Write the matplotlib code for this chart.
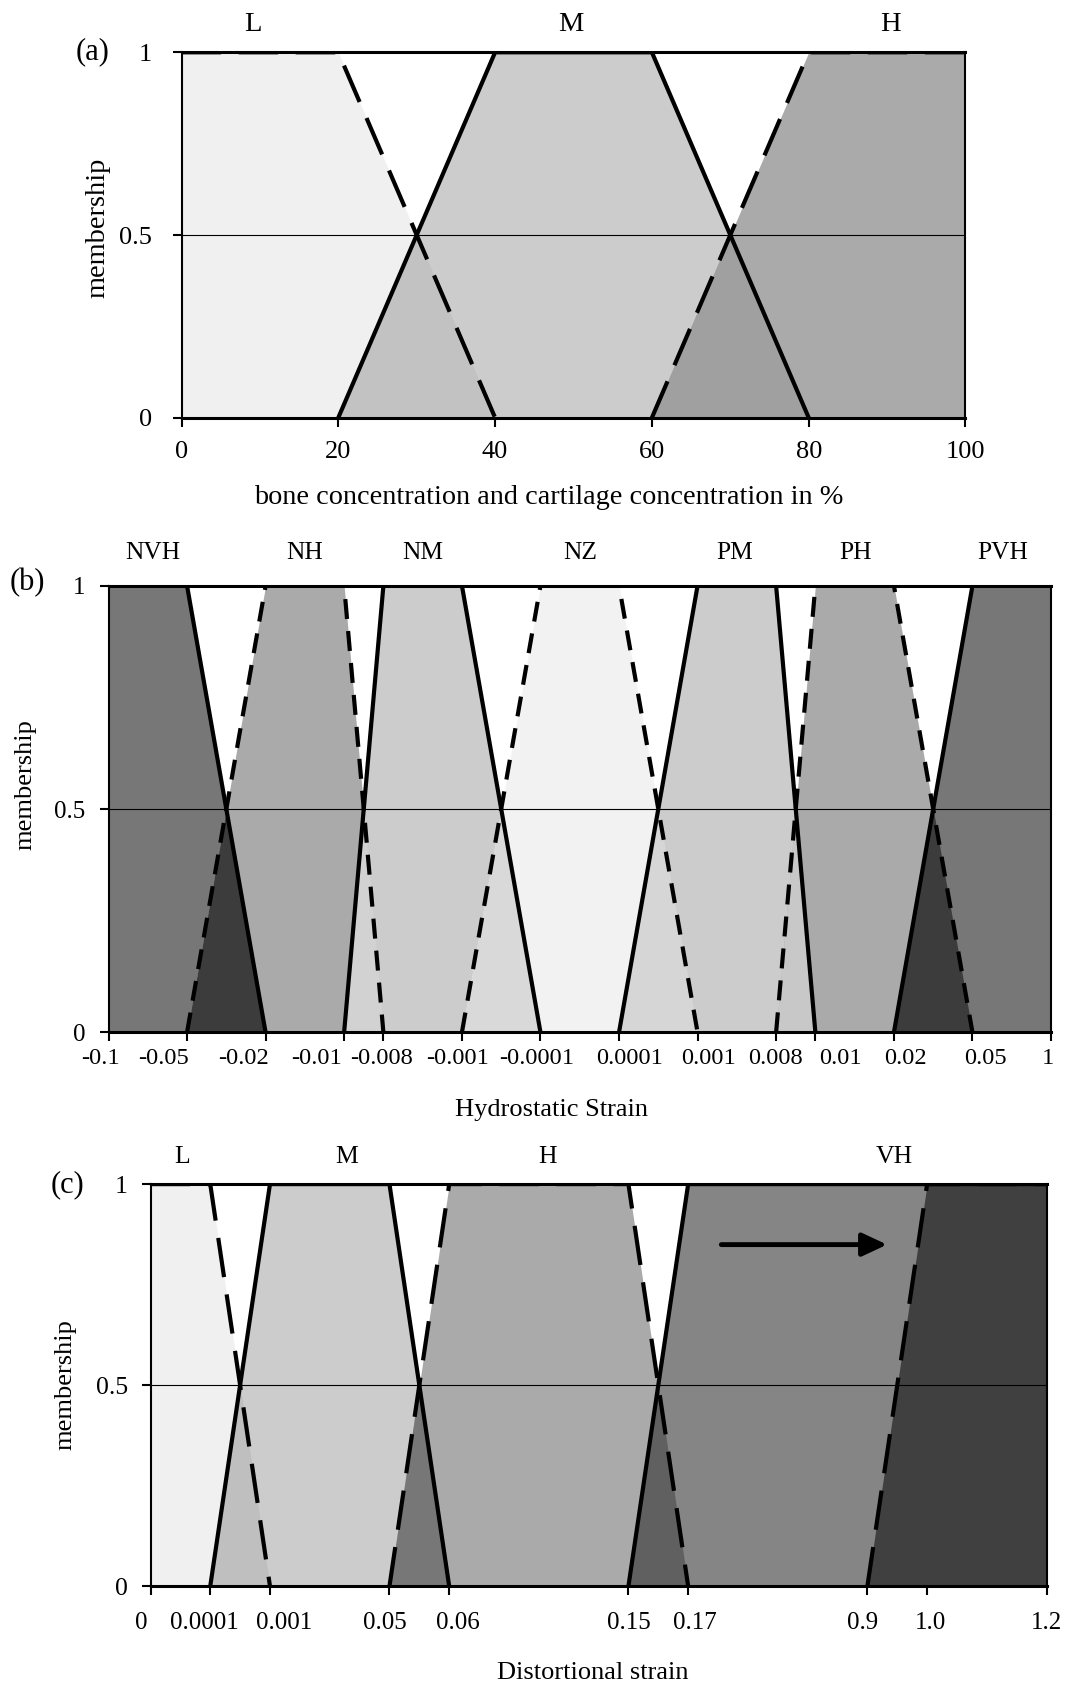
import numpy as np
import matplotlib
matplotlib.use('Agg')
import matplotlib.pyplot as plt
from matplotlib.transforms import blended_transform_factory, ScaledTranslation

plt.rcParams['font.family'] = ['Liberation Serif', 'DejaVu Serif']

# (a) bone / cartilage concentration
a_ticks = [0, 20, 40, 60, 80, 100]
a_tick_labels = ['0', '20', '40', '60', '80', '100']
a_names = ['L', 'M', 'H']
a_sets = [[0, 0, 20, 40], [20, 40, 60, 80], [60, 80, 100, 100]]

# (b) hydrostatic strain
b_ticks = [-0.1, -0.05, -0.02, -0.01, -0.008, -0.001, -0.0001,
           0.0001, 0.001, 0.008, 0.01, 0.02, 0.05, 1]
b_tick_labels = ['-0.1', '-0.05', '-0.02', '-0.01', '-0.008', '-0.001', '-0.0001',
                 '0.0001', '0.001', '0.008', '0.01', '0.02', '0.05', '1']
b_names = ['NVH', 'NH', 'NM', 'NZ', 'PM', 'PH', 'PVH']
b_sets = [[-0.1, -0.1, -0.05, -0.02],
          [-0.05, -0.02, -0.01, -0.008],
          [-0.01, -0.008, -0.001, -0.0001],
          [-0.001, -0.0001, 0.0001, 0.001],
          [0.0001, 0.001, 0.008, 0.01],
          [0.008, 0.01, 0.02, 0.05],
          [0.02, 0.05, 1, 1]]

# (c) distortional strain
c_ticks = [0, 0.0001, 0.001, 0.05, 0.06, 0.15, 0.17, 0.9, 1.0, 1.2]
c_tick_labels = ['0', '0.0001', '0.001', '0.05', '0.06', '0.15', '0.17', '0.9', '1.0', '1.2']
c_names = ['L', 'M', 'H', 'VH']
c_sets = [[0, 0, 0.0001, 0.001],
          [0.0001, 0.001, 0.05, 0.06],
          [0.05, 0.06, 0.15, 0.17],
          [0.15, 0.17, 1.2, 1.2],
          [0.9, 1.0, 1.2, 1.2]]

W, H = 1071, 1688
fig = plt.figure(figsize=(W / 100, H / 100), dpi=100)


def px(x, y):
    return x / W, 1 - y / H


def add_axes(left, top, right, bottom):
    return fig.add_axes([left / W, 1 - bottom / H, (right - left) / W, (bottom - top) / H])


def trap(s):
    xp, fp = list(s), [0, 1, 1, 0]
    if s[0] == s[1]:
        xp, fp = xp[1:], fp[1:]
    if s[2] == s[3]:
        xp, fp = xp[:-1], fp[:-1]
    return xp, fp


def panel(ax, ticks, tick_labels, units, sets, styles, fills, overlaps, dash,
          tsize, ysize, label_drop, label_shift, ypad):
    # spreadsheet-style axis: the ticks are spaced by category, not by value
    if units is not None:
        ax.set_xscale('function', functions=(lambda x: np.interp(x, ticks, units),
                                             lambda p: np.interp(p, units, ticks)))
    ax.set_xlim(ticks[0], ticks[-1])
    ax.set_ylim(0, 1)
    xs = np.unique(np.concatenate([np.linspace(ticks[i], ticks[i + 1], 400)
                                   for i in range(len(ticks) - 1)]))
    mus = [np.interp(xs, *trap(s)) for s in sets]
    for mu, c in zip(mus, fills):
        ax.fill_between(xs, 0, mu, color=c, lw=0, zorder=1)
    for i, c in enumerate(overlaps):
        if c is not None:
            ax.fill_between(xs, 0, np.minimum(mus[i], mus[i + 1]), color=c, lw=0, zorder=1.5)
    ax.axhline(0.5, color='black', lw=0.8, zorder=3)
    for s, st in zip(sets, styles):
        xp, fp = trap(s)
        ls = '-' if st == '-' else (0, dash)
        ax.plot(xp, fp, color='black', lw=3, linestyle=ls, dash_capstyle='butt', zorder=4)
    ax.set_xticks(ticks)
    ax.minorticks_off()
    ax.tick_params(axis='x', labelbottom=False)
    trans = blended_transform_factory(ax.transData, ax.transAxes)
    for t, lab, dx in zip(ticks, tick_labels, label_shift):
        ax.text(t, 0, lab, fontsize=tsize, ha='center', va='center', clip_on=False,
                transform=trans + ScaledTranslation(dx / 100, -label_drop / 100,
                                                    fig.dpi_scale_trans))
    ax.set_yticks([0, 0.5, 1])
    ax.set_yticklabels(['0', '0.5', '1'])
    ax.tick_params(axis='both', direction='out', length=6.7, width=1.5)
    ax.tick_params(axis='y', labelsize=ysize, pad=ypad)
    for side in ['top', 'bottom']:
        ax.spines[side].set_linewidth(2.2)
    for side in ['left', 'right']:
        ax.spines[side].set_linewidth(1.5)
    for sp in ax.spines.values():
        sp.set_zorder(5)


def names(ax, labels, xfrac, yfrac, size):
    for name, x in zip(labels, xfrac):
        ax.text(x, yfrac, name, transform=ax.transAxes, ha='center', va='center',
                fontsize=size, clip_on=False)


# (a)
ax1 = add_axes(181.5, 52.3, 965.5, 417.7)
panel(ax1, a_ticks, a_tick_labels, None, a_sets,
      ['--', '-', '--'], ['#f0f0f0', '#cccccc', '#aaaaaa'], ['#c2c2c2', '#a0a0a0'],
      (9.5, 4.2), 19, 19, 34, [0] * 6, 14.5)
names(ax1, a_names, [0.091, 0.496, 0.904], 1.075, 20.5)
fig.text(*px(93, 52), '(a)', ha='center', va='center', fontsize=22)
fig.text(*px(98, 228), 'membership', ha='center', va='center', rotation=90, fontsize=20.4)
fig.text(*px(548.5, 497), 'bone concentration and cartilage concentration in %',
         ha='center', va='center', fontsize=20.3)

# (b)
ax2 = add_axes(108.5, 585.7, 1051, 1032.3)
panel(ax2, b_ticks, b_tick_labels,
      [0, 1, 2, 3, 3.5, 4.5, 5.5, 6.5, 7.5, 8.5, 9, 10, 11, 12],
      b_sets, ['-', '--', '-', '--', '-', '--', '-'],
      ['#777777', '#aaaaaa', '#cccccc', '#f2f2f2', '#cccccc', '#aaaaaa', '#777777'],
      ['#3c3c3c', '#d2d2d2', '#d9d9d9', '#d6d6d6', '#c8c8c8', '#3c3c3c'],
      (4.8, 2.9), 17.6, 18, 26.3,
      [-8, -24, -22, -28, -2, -4, -3.5, 10.5, 11, -1, 25, 12, 13, -3.5], 10)
names(ax2, b_names, [0.0467, 0.2083, 0.3336, 0.5003, 0.6643, 0.7925, 0.9488], 1.074, 18.3)
fig.text(*px(27.5, 582.7), '(b)', ha='center', va='center', fontsize=22)
fig.text(*px(25.8, 785), 'membership', ha='center', va='center', rotation=90, fontsize=19)
fig.text(*px(552, 1110), 'Hydrostatic Strain', ha='center', va='center', fontsize=19)

# (c)
ax3 = add_axes(150.5, 1184.1, 1046.6, 1586.2)
panel(ax3, c_ticks, c_tick_labels,
      [0, 1, 2, 4, 5, 8, 9, 12, 13, 15],
      c_sets, ['--', '-', '--', '-', '--'],
      ['#f0f0f0', '#cccccc', '#aaaaaa', '#858585', '#404040'],
      ['#bfbfbf', '#777777', '#606060', None],
      (9.5, 4.2), 18, 18.5, 36.7, [-9, -6, 14, -5, 9, 0, 6.5, -4.5, 3, 0], 9.5)
names(ax3, c_names, [0.0357, 0.2194, 0.4428, 0.8297], 1.068, 18.5)
fig.text(*px(67, 1185), '(c)', ha='center', va='center', fontsize=22)
fig.text(*px(65.4, 1385), 'membership', ha='center', va='center', rotation=90, fontsize=19)
fig.text(*px(592.3, 1672.7), 'Distortional strain', ha='center', va='center', fontsize=19)
ax3.annotate('', xy=(0.822, 0.8495), xytext=(0.637, 0.8495), xycoords='axes fraction',
             arrowprops=dict(arrowstyle='-|>,head_length=0.75,head_width=0.35',
                             lw=3.5, color='black', mutation_scale=20,
                             shrinkA=0, shrinkB=0), zorder=6)

fig.savefig('out.png', dpi=100)
